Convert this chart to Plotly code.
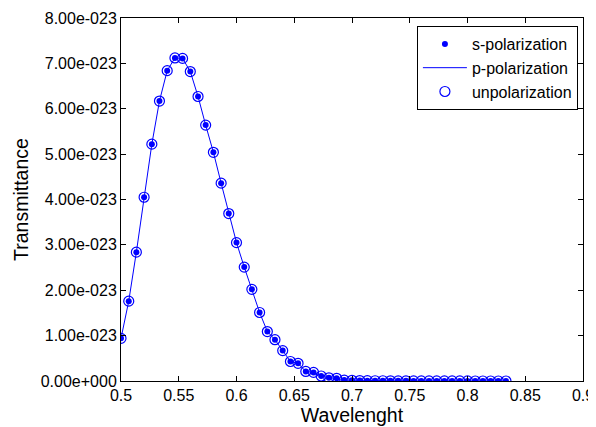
import plotly.graph_objects as go

wavelength = [0.5000, 0.5067, 0.5133, 0.5200, 0.5267, 0.5333, 0.5400, 0.5467, 0.5533, 0.5600,
              0.5667, 0.5733, 0.5800, 0.5867, 0.5933, 0.6000, 0.6067, 0.6133, 0.6200, 0.6267,
              0.6333, 0.6400, 0.6467, 0.6533, 0.6600, 0.6667, 0.6733, 0.6800, 0.6867, 0.6933,
              0.7000, 0.7067, 0.7133, 0.7200, 0.7267, 0.7333, 0.7400, 0.7467, 0.7533, 0.7600,
              0.7667, 0.7733, 0.7800, 0.7867, 0.7933, 0.8000, 0.8067, 0.8133, 0.8200, 0.8267,
              0.8333]

transmittance = [0.94e-23, 1.76e-23, 2.84e-23, 4.05e-23, 5.22e-23, 6.17e-23, 6.84e-23, 7.12e-23, 7.11e-23, 6.82e-23,
                 6.27e-23, 5.64e-23, 5.04e-23, 4.36e-23, 3.69e-23, 3.05e-23, 2.51e-23, 2.02e-23, 1.51e-23, 1.09e-23,
                 0.91e-23, 0.67e-23, 0.43e-23, 0.39e-23, 0.21e-23, 0.19e-23, 0.11e-23, 0.07e-23, 0.06e-23, 0.02e-23,
                 0.015e-23, 0.01e-23, 0.008e-23, 0.006e-23, 0.005e-23, 0.004e-23, 0.003e-23, 0.003e-23, 0.002e-23, 0.002e-23,
                 0.002e-23, 0.001e-23, 0.001e-23, 0.001e-23, 0.001e-23, 0.001e-23, 0.0e-23, 0.0e-23, 0.0e-23, 0.0e-23,
                 0.0e-23]

x_ticks = [0.5, 0.55, 0.6, 0.65, 0.7, 0.75, 0.8, 0.85, 0.9]
x_ticklabels = ["0.5", "0.55", "0.6", "0.65", "0.7", "0.75", "0.8", "0.85", "0.9"]
y_ticks = [0, 1e-23, 2e-23, 3e-23, 4e-23, 5e-23, 6e-23, 7e-23, 8e-23]
y_ticklabels = ["0.00e+000", "1.00e-023", "2.00e-023", "3.00e-023", "4.00e-023",
                "5.00e-023", "6.00e-023", "7.00e-023", "8.00e-023"]

BLUE = "rgb(0,0,255)"
FONT = "Liberation Sans, Arial, sans-serif"

fig = go.Figure()
fig.add_trace(go.Scatter(x=wavelength, y=transmittance, mode="lines", name="p-polarization",
                         line=dict(color=BLUE, width=1), legendrank=2))
fig.add_trace(go.Scatter(x=wavelength, y=transmittance, mode="markers", name="unpolarization",
                         marker=dict(symbol="circle-open", size=10, color=BLUE, line=dict(width=1.2)),
                         legendrank=3))
fig.add_trace(go.Scatter(x=wavelength, y=transmittance, mode="markers", name="s-polarization",
                         marker=dict(symbol="circle", size=6, color=BLUE), legendrank=1))

axis_common = dict(showgrid=False, zeroline=False, showline=True, linecolor="black", linewidth=1,
                   mirror="ticks", ticks="inside", ticklen=5, tickcolor="black", automargin=False,
                   tickfont=dict(family=FONT, size=16, color="black"))

fig.update_layout(
    width=588, height=419,
    margin=dict(l=113, r=13, t=10, b=46),
    paper_bgcolor="white", plot_bgcolor="white",
    font=dict(family=FONT, color="black"),
    xaxis=dict(range=[0.5, 0.9], tickvals=x_ticks, ticktext=x_ticklabels,
               title=dict(text="Wavelenght", font=dict(family=FONT, size=19.5), standoff=2),
               **axis_common),
    yaxis=dict(range=[0, 8e-23], tickvals=y_ticks, ticktext=y_ticklabels,
               title=dict(text="Transmittance", font=dict(family=FONT, size=19.5), standoff=6),
               **axis_common),
    legend=dict(x=0.989, y=0.978, xanchor="right", yanchor="top",
                bgcolor="white", bordercolor="black", borderwidth=1,
                font=dict(family=FONT, size=16, color="black"),
                tracegroupgap=0, itemwidth=44),
    showlegend=True,
)

fig.write_html("out.html")
